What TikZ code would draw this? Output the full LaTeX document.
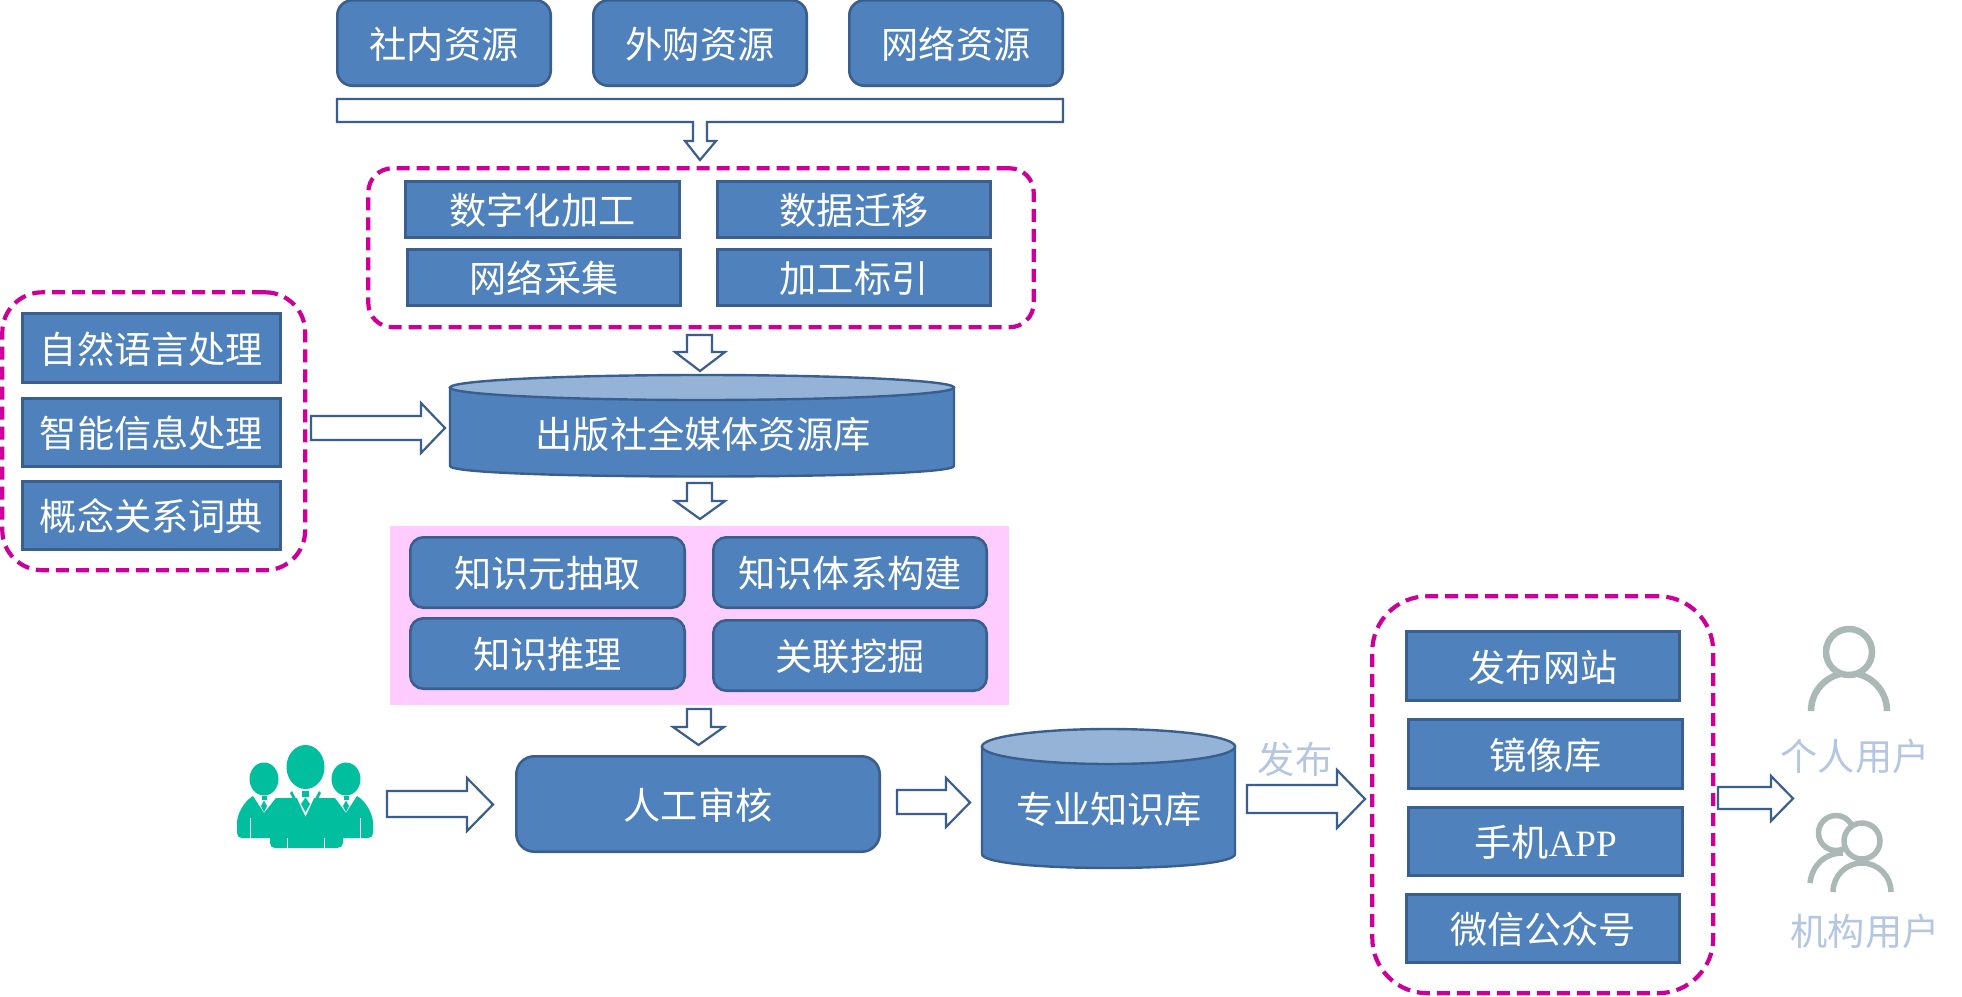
\documentclass[tikz,border=0pt]{standalone}
\usepackage{fontspec}
\setmainfont{Liberation Serif}
\newfontfamily\cjk{Noto Sans CJK SC}
\definecolor{fillblue}{HTML}{4F81BD}
\definecolor{edgeblue}{HTML}{3A5F8E}
\definecolor{topblue}{HTML}{95B3D7}
\definecolor{dashmag}{HTML}{CC0099}
\definecolor{pinkbg}{HTML}{FFCCFF}
\definecolor{teal}{HTML}{00BE9E}
\definecolor{greyicon}{HTML}{AAB9B6}
\definecolor{paletxt}{HTML}{B4C6E2}
\tikzset{
  bigtext/.style={font=\fontsize{37.2}{40}\selectfont\cjk,text height=30pt,text depth=0pt,inner sep=0pt},
  plainbox/.style={bigtext,draw=edgeblue,fill=fillblue,line width=2.6pt,text=white},
  roundbox/.style={plainbox,rounded corners=#1},
  dashbox/.style={draw=dashmag,line width=4.2pt,dash pattern=on 13pt off 7pt,rounded corners=#1,inner sep=0pt},
  blockarrow/.style={draw=edgeblue,fill=white,line width=2.2pt,line join=miter},
  lighttext/.style={bigtext,text=paletxt},
  whitetext/.style={bigtext,text=white},
  cylbody/.style={draw=edgeblue,fill=fillblue,line width=2.4pt},
  cyltop/.style={draw=edgeblue,fill=topblue,line width=2.4pt},
  iconline/.style={draw=greyicon,line width=6.5pt},
  iconthin/.style={draw=greyicon,line width=5.5pt},
}
% [style]{name}{x0}{y0}{x1}{y1}{text}
\newcommand{\bx}[7][plainbox]{%
  \pgfmathsetmacro{\bxw}{#5-#3-0.6}\pgfmathsetmacro{\bxh}{#6-#4-0.6}%
  \pgfmathsetmacro{\bxcx}{(#3+#5)/2}\pgfmathsetmacro{\bxcy}{(#4+#6)/2}%
  \node[#1,minimum width=\bxw pt,minimum height=\bxh pt] (#2) at (\bxcx,\bxcy) {#7};}
% x-start, head-base x, tip x, stem top, stem bottom, head top, head bottom
\newcommand{\rarrow}[7]{%
  \pgfmathsetmacro{\raym}{(#6+#7)/2}%
  \draw[blockarrow] (#1,#4) -- (#2,#4) -- (#2,#6) -- (#3,\raym) -- (#2,#7) -- (#2,#5) -- (#1,#5) -- cycle;}
% head left, stem left, stem right, head right, y-start, head-base y, tip y
\newcommand{\darrow}[7]{%
  \pgfmathsetmacro{\daxm}{(#1+#4)/2}%
  \draw[blockarrow] (#2,#5) -- (#3,#5) -- (#3,#6) -- (#4,#6) -- (\daxm,#7) -- (#1,#6) -- (#2,#6) -- cycle;}
% x0,x1, top y centre, top ry, side bottom y, bottom bulge
\newcommand{\cyl}[6]{%
  \pgfmathsetmacro{\cyc}{(#1+#2)/2}\pgfmathsetmacro{\cyr}{(#2-#1)/2}%
  \pgfmathsetmacro{\cyb}{#5+#6*1.333}%
  \draw[cylbody] (#1,#3) -- (#1,#5) .. controls (#1,\cyb) and (#2,\cyb) .. (#2,#5) -- (#2,#3) -- cycle;
  \draw[cyltop] (\cyc,#3) ellipse [x radius=\cyr pt,y radius=#4 pt];}
\begin{document}
\begin{tikzpicture}[x=1pt,y=-1pt]
\fill[white] (0,0) rectangle (1962,996);
\useasboundingbox (0,0) rectangle (1962,996);

% dashed groups and pink band
\bx[dashbox=24pt]{groupA}{368}{168}{1034}{327.5}{}
\bx[dashbox=40pt]{groupB}{2}{292}{305.5}{570.5}{}
\bx[dashbox=55pt]{groupC}{1372}{596}{1713.5}{993.5}{}
\fill[pinkbg] (390,526) rectangle (1009,705);

% top sources
\bx[roundbox=15pt]{s1}{337}{0}{551}{86}{社内资源}
\bx[roundbox=15pt]{s2}{593}{0}{807}{86}{外购资源}
\bx[roundbox=15pt]{s3}{849}{0}{1063}{86}{网络资源}

% bracket arrow
\draw[blockarrow] (337,99) -- (1063,99) -- (1063,122) -- (707,122) -- (707,141) -- (716,141) -- (700,160) -- (685,141) -- (693,141) -- (693,122) -- (337,122) -- cycle;

% processing
\bx{p1}{405}{181}{680}{238}{数字化加工}
\bx{p2}{717}{181}{991}{238}{数据迁移}
\bx{p3}{407}{249}{681}{306}{网络采集}
\bx{p4}{717}{249}{991}{306}{加工标引}
\darrow{675}{687}{712}{725}{335}{352}{371}

% tools
\bx{t1}{22}{313}{281}{383}{自然语言处理}
\bx{t2}{22}{398}{281}{467}{智能信息处理}
\bx{t3}{22}{481}{281}{550}{概念关系词典}
\rarrow{311}{421}{445}{416}{440}{403}{453}

% resource library
\cyl{450}{954}{387.5}{12.5}{466}{10.5}
\node[whitetext] (lib) at (703,433) {出版社全媒体资源库};
\darrow{675}{687}{712}{725}{483}{501}{519}

% knowledge tasks
\bx[roundbox=13pt]{k1}{410}{537}{685}{608}{知识元抽取}
\bx[roundbox=13pt]{k2}{713}{537}{987}{608}{知识体系构建}
\bx[roundbox=13pt]{k3}{410}{618}{685}{689}{知识推理}
\bx[roundbox=13pt]{k4}{713}{620}{987}{691}{关联挖掘}
\darrow{673}{687}{711}{724}{709}{727}{745}

% people icon
\fill[teal] (237,823) .. controls (237,815) and (243,802) .. (253,796) -- (264,813) -- (276,798) -- (335,798) -- (346,813) -- (357,796) .. controls (367,802) and (373,815) .. (373,823) -- (373,833) .. controls (373,836) and (371,838) .. (368,838) -- (343,838) -- (343,843) .. controls (343,846) and (340,848) .. (337,848) -- (275,848) .. controls (272,848) and (270,846) .. (270,843) -- (270,838) -- (242,838) .. controls (239,838) and (237,836) .. (237,833) -- cycle;
\fill[white] (293,789) -- (305.5,817) -- (318,789) -- cycle;
\fill[teal] (290,793) -- (292,791) -- (305.5,817) -- (319,791) -- (321,793) -- (305.5,825) -- cycle;
\fill[teal] (305.5,767) ellipse [x radius=19pt,y radius=22pt];
\fill[teal] (264,779) ellipse [x radius=14.5pt,y radius=16.5pt];
\fill[teal] (346,779) ellipse [x radius=14.5pt,y radius=16.5pt];
\fill[teal] (302,791) rectangle (309,797);
\fill[teal] (305.5,797.5) -- (310,804) -- (305.5,812) -- (301,804) -- cycle;
\fill[white] (258,796) -- (264,810) -- (270,798) -- cycle;
\fill[white] (340,798) -- (346,810) -- (352,796) -- cycle;
\fill[teal] (261.5,796) rectangle (266.5,800);
\fill[teal] (264,800.5) -- (267,806) -- (264,812) -- (261,806) -- cycle;
\fill[teal] (343.5,796) rectangle (348.5,800);
\fill[teal] (346,800.5) -- (349,806) -- (346,812) -- (343,806) -- cycle;
\draw[white,line width=0.8pt] (250.7,818) -- (250.7,838) (360,818) -- (360,838) (287.7,838) -- (287.7,848) (324.3,838) -- (324.3,848);

\rarrow{387}{467}{493}{791}{817}{778}{831}

% review
\bx[roundbox=18pt]{review}{516}{756}{880}{852}{人工审核}
\rarrow{897}{946}{970}{790}{814}{778}{827}

% professional library
\cyl{982}{1235}{746.5}{17.5}{854}{14}
\node[whitetext] (prolib) at (1109,808) {专业知识库};

% publish
\rarrow{1247}{1337}{1365}{785}{813}{770}{828}
\node[lighttext] (pub) at (1295,758) {发布};

% channels
\bx{c1}{1406}{631}{1680}{701}{发布网站}
\bx{c2}{1408}{719}{1683}{789}{镜像库}
\bx{c3}{1408}{807}{1683}{876}{手机{\rmfamily APP}}
\bx{c4}{1406}{894}{1680}{963}{微信公众号}
\rarrow{1718}{1771}{1793}{787}{809}{776}{821}

% users
\draw[iconline] (1811,711) arc [start angle=180,end angle=0,radius=38pt];
\draw[iconline,fill=white] (1849,652) circle [radius=23pt];
\node[lighttext] (u1) at (1855,755) {个人用户};

\draw[iconthin] (1810,883) .. controls (1812,866) and (1824,853) .. (1843,853);
\draw[iconthin] (1836,833) circle [radius=17.5pt];
\draw[iconthin,fill=white] (1862,841) circle [radius=18pt];
\draw[iconthin] (1833,892) arc [start angle=180,end angle=0,radius=29pt];
\node[lighttext] (u2) at (1865,930) {机构用户};
\end{tikzpicture}
\end{document}
